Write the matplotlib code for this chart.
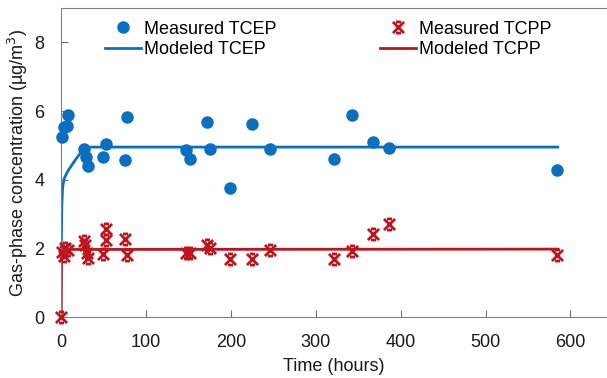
import numpy as np
import matplotlib.pyplot as plt
from matplotlib.path import Path

plt.rcParams['font.family'] = ['Liberation Sans', 'DejaVu Sans']

# measured TCEP (hours, ug/m3)
tcep_t = [1, 4, 7, 8, 27, 30, 32, 50, 53, 75, 78, 147, 152, 172, 175,
          199, 225, 246, 321, 343, 368, 386, 584]
tcep_c = [5.23, 5.52, 5.55, 5.87, 4.9, 4.67, 4.41, 4.67, 5.05, 4.58, 5.84,
          4.86, 4.61, 5.67, 4.9, 3.77, 5.61, 4.9, 4.61, 5.87, 5.11, 4.93, 4.27]

# measured TCPP
tcpp_t = [0, 1, 3, 5, 8, 27, 28, 31, 32, 50, 53, 53, 75, 78, 147, 152, 172,
          175, 199, 225, 246, 321, 343, 368, 386, 584]
tcpp_c = [0, 1.9, 1.78, 2.0, 1.95, 2.22, 2.1, 1.87, 1.72, 1.84, 2.57, 2.25,
          2.28, 1.81, 1.87, 1.87, 2.1, 2.0, 1.69, 1.69, 1.96, 1.69, 1.93,
          2.42, 2.72, 1.81]

# modeled curves
mod_tcep_t = [0, 0.3, 1, 2, 4, 8, 12, 17, 25, 35, 585]
mod_tcep_c = [0, 2.0, 3.3, 3.8, 4.05, 4.25, 4.4, 4.58, 4.85, 4.95, 4.95]
mod_tcpp_t = [0, 0.5, 2, 5, 585]
mod_tcpp_c = [0, 1.6, 1.85, 1.97, 1.98]

blue = '#0A6FC2'
red = '#C0141C'

# excel-like star marker: X with short bars at top and bottom
star = Path([(-1, -1), (1, 1), (-1, 1), (1, -1), (-0.45, 1), (0.45, 1),
             (-0.45, -1), (0.45, -1)],
            [Path.MOVETO, Path.LINETO, Path.MOVETO, Path.LINETO,
             Path.MOVETO, Path.LINETO, Path.MOVETO, Path.LINETO])

fig = plt.figure(figsize=(6.07, 3.78), dpi=100)
ax = fig.add_axes([0.1005, 0.161, 0.8995, 0.818])

ax.plot(tcep_t, tcep_c, 'o', color=blue, ms=8, label='Measured TCEP',
        zorder=3, clip_on=False)
ax.plot(mod_tcep_t, mod_tcep_c, '-', color=blue, lw=2, label='Modeled TCEP', zorder=2)
ax.plot(tcpp_t, tcpp_c, ls='none', marker=star, color=red, mec=red, mfc='none',
        mew=2, ms=8, label='Measured TCPP', zorder=4, clip_on=False)
ax.plot(mod_tcpp_t, mod_tcpp_c, '-', color=red, lw=2, label='Modeled TCPP', zorder=2)

ax.set_xlim(0, 643)
ax.set_ylim(0, 9)
ax.set_xticks([0, 100, 200, 300, 400, 500, 600])
ax.set_yticks([0, 2, 4, 6, 8])
ax.tick_params(direction='in', length=5, color='#707070', labelsize=13,
               labelcolor='#1a1a1a')
ax.tick_params(axis='x', pad=12)
ax.tick_params(axis='y', pad=12)
for s in ax.spines.values():
    s.set_color('#808080')
ax.spines['right'].set_visible(False)

ax.set_xlabel('Time (hours)', fontsize=13, labelpad=5, color='#1a1a1a')
ax.set_ylabel('Gas-phase concentration (µg/m$^3$)', fontsize=13,
              labelpad=3, color='#1a1a1a')

h, l = ax.get_legend_handles_labels()
ax.legend(h, l, ncol=2, loc='upper left', bbox_to_anchor=(0.057, 1.0),
          frameon=False, fontsize=13, handlelength=2.0, handletextpad=0.15,
          columnspacing=5.75, labelspacing=0.2, borderaxespad=0.3)

fig.savefig('out.png', dpi=100)
